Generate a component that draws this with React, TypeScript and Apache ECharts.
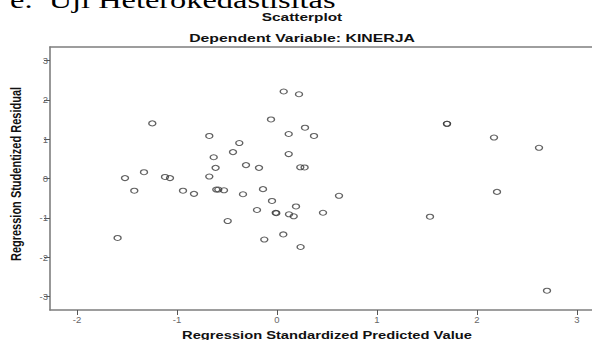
import React, { useEffect, useRef } from "react";
import * as echarts from "echarts";

const predicted: number[] = [
  -1.594, -1.52, -1.427, -1.33, -1.247, -1.12, -1.07, -0.94, -0.83, -0.677,
  -0.677, -0.633, -0.614, -0.607, -0.587, -0.53, -0.493, -0.44, -0.377, -0.34,
  -0.31, -0.2, -0.18, -0.14, -0.127, -0.06, -0.05, -0.013, -0.007, 0.063,
  0.067, 0.117, 0.117, 0.12, 0.167, 0.19, 0.22, 0.233, 0.236, 0.276,
  0.28, 0.37, 0.46, 0.62, 1.53, 1.7, 1.7, 2.17, 2.2, 2.62, 2.7,
];
const residual: number[] = [
  -1.51, 0.01, -0.31, 0.16, 1.4, 0.04, 0.01, -0.31, -0.39, 1.08,
  0.05, 0.54, 0.27, -0.28, -0.28, -0.3, -1.08, 0.67, 0.9, -0.4,
  0.34, -0.8, 0.27, -0.27, -1.55, 1.5, -0.57, -0.87, -0.88, -1.42,
  2.21, 1.13, 0.62, -0.91, -0.96, -0.71, 2.14, 0.285, -1.74, 0.28,
  1.29, 1.08, -0.87, -0.44, -0.97, 1.39, 1.39, 1.04, -0.34, 0.78, -2.85,
];
const xTicks: number[] = [-2, -1, 0, 1, 2, 3];
const yTicks: number[] = [-3, -2, -1, 0, 1, 2, 3];

const heading = "e.  Uji Heterokedastisitas";
const chartTitle = "Scatterplot";
const chartSubtitle = "Dependent Variable: KINERJA";
const xName = "Regression Standardized Predicted Value";
const yName = "Regression Studentized Residual";

export default function App() {
  const ref = useRef<HTMLDivElement>(null);
  useEffect(() => {
    if (!ref.current) return;
    const chart = echarts.init(ref.current, undefined, { renderer: "svg" });
    const axisGray = "#7e7e7e";
    const labelGray = "#666";
    const sans = "'Liberation Sans', Arial, sans-serif";
    const stretch = 1.4;
    chart.setOption({
      animation: false,
      backgroundColor: "#fff",
      grid: { left: 50, top: 47, right: 0, bottom: 30 },
      graphic: [
        {
          type: "text",
          x: 10,
          y: -12,
          scaleX: 1.35,
          style: {
            text: heading,
            font: "24px 'Liberation Serif', 'Times New Roman', serif",
            fill: "#000",
            align: "left",
            verticalAlign: "top",
          },
        },
        {
          type: "text",
          x: 302,
          y: 17.5,
          scaleX: stretch,
          style: {
            text: chartTitle,
            font: "bold 11px " + sans,
            fill: "#111",
            align: "center",
            verticalAlign: "middle",
          },
        },
        {
          type: "text",
          x: 302,
          y: 38,
          scaleX: stretch,
          style: {
            text: chartSubtitle,
            font: "bold 11.3px " + sans,
            fill: "#111",
            align: "center",
            verticalAlign: "middle",
          },
        },
        {
          type: "text",
          x: 327,
          y: 335,
          scaleX: stretch,
          style: {
            text: xName,
            font: "bold 10.5px " + sans,
            fill: "#111",
            align: "center",
            verticalAlign: "middle",
          },
        },
        {
          type: "text",
          x: 15.5,
          y: 174,
          rotation: Math.PI / 2,
          scaleY: stretch,
          style: {
            text: yName,
            font: "bold 11px " + sans,
            fill: "#111",
            align: "center",
            verticalAlign: "middle",
          },
        },
      ],
      xAxis: [
        {
          type: "value",
          min: -2.27,
          max: 3.15,
          position: "bottom",
          splitLine: { show: false },
          axisLine: { show: true, onZero: false, lineStyle: { color: axisGray, width: 1.6 } },
          axisTick: {
            show: true,
            length: 5,
            customValues: xTicks,
            lineStyle: { color: "#555", width: 1 },
          },
          axisLabel: {
            customValues: xTicks,
            color: labelGray,
            fontSize: 9.5,
            fontFamily: sans,
            margin: 4,
          },
        },
        {
          type: "value",
          min: -2.27,
          max: 3.15,
          position: "top",
          splitLine: { show: false },
          axisLine: { show: true, onZero: false, lineStyle: { color: axisGray, width: 1.6 } },
          axisTick: { show: false },
          axisLabel: { show: false },
        },
      ],
      yAxis: {
        type: "value",
        min: -3.34,
        max: 3.34,
        splitLine: { show: false },
        axisLine: { show: true, onZero: false, lineStyle: { color: axisGray, width: 1.6 } },
        axisTick: {
          show: true,
          length: 6,
          customValues: yTicks,
          lineStyle: { color: "#555", width: 1 },
        },
        axisLabel: {
          customValues: yTicks,
          color: labelGray,
          fontSize: 9.5,
          fontFamily: sans,
          margin: 2,
        },
      },
      series: [
        {
          type: "scatter",
          xAxisIndex: 0,
          symbol: "circle",
          symbolSize: [7, 5],
          data: predicted.map((x, i) => [x, residual[i]]),
          itemStyle: {
            color: "rgba(0,0,0,0)",
            borderColor: "#3a3a3a",
            borderWidth: 1.2,
          },
        },
      ],
    });
    return () => chart.dispose();
  }, []);
  return (
    <div
      ref={ref}
      style={{ position: "fixed", left: 0, top: 0, width: 592, height: 340 }}
    />
  );
}
